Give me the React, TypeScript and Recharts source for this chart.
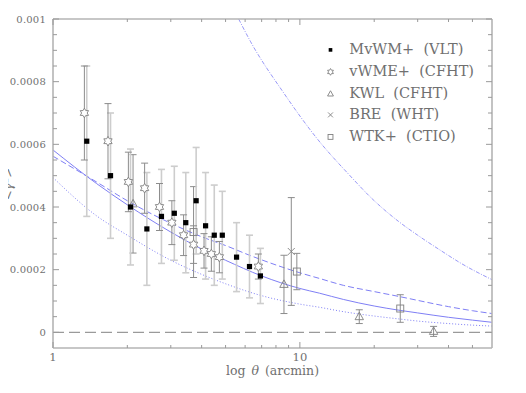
import React from 'react';
import { ComposedChart, Line, Scatter, XAxis, YAxis, ErrorBar, ReferenceLine } from 'recharts';

// ---------- data ----------
// MvWM+ (VLT) – filled squares
const mvwmTheta = [1.37, 1.71, 2.06, 2.40, 2.75, 3.10, 3.45, 3.80, 4.15, 4.50, 4.85, 5.54, 6.25, 6.92];
const mvwmValue = [0.00061, 0.00050, 0.00040, 0.00033, 0.00037, 0.00038, 0.00035, 0.00042, 0.00034, 0.00031, 0.00031, 0.00024, 0.00021, 0.00018];
const mvwmError = [0.00024, 0.00020, 0.000185, 0.00018, 0.00015, 0.00015, 0.00016, 0.00017, 0.00017, 0.00016, 0.00014, 0.00011, 0.00010, 0.000088];

// vWME+ (CFHT) – stars
const vwmeTheta = [1.34, 1.67, 2.02, 2.35, 2.70, 3.03, 3.38, 3.71, 4.09, 4.38, 4.72, 6.79];
const vwmeValue = [0.00070, 0.00061, 0.00048, 0.00046, 0.00040, 0.00035, 0.00031, 0.00028, 0.00026, 0.00025, 0.00024, 0.00021];
const vwmeError = [0.00015, 0.00012, 0.000095, 0.00008, 0.000075, 0.00007, 0.000065, 0.00006, 0.000055, 0.000055, 0.00005, 0.00004];

// KWL (CFHT) – triangles
const kwlTheta = [2.11, 8.62, 17.4, 34.8];
const kwlValue = [0.00041, 0.000153, 0.00005, 0.000003];
const kwlError = [0.000157, 0.000093, 0.000022, 0.000016];

// BRE (WHT) – cross
const breTheta = [9.23];
const breValue = [0.000258];
const breError = [0.000172];

// WTK+ (CTIO) – open squares
const wtkTheta = [3.71, 9.72, 25.5];
const wtkValue = [0.00032, 0.000194, 0.000076];
const wtkError = [0.000145, 0.000058, 0.000044];

// model curves
const solidTheta = [1, 1.5, 2, 3, 4, 5, 7, 10, 12, 15, 20, 25, 30, 40, 50, 60];
const solidValue = [0.000582, 0.000475, 0.000407, 0.00032, 0.000266, 0.00023, 0.00018, 0.00014, 0.000125, 0.000105, 0.000084, 0.000071, 0.000062, 0.000048, 0.000039, 0.000032];

const dashedTheta = [1, 1.5, 2, 3, 4, 5, 6.3, 8, 10, 12, 15, 20, 25, 30, 40, 50, 60];
const dashedValue = [0.000562, 0.00048, 0.00042, 0.000348, 0.000305, 0.000277, 0.000245, 0.000215, 0.00019, 0.000172, 0.00015, 0.00013, 0.000115, 0.000102, 0.000082, 0.000069, 0.00006];

const dottedTheta = [1, 1.5, 2, 3, 4, 5, 7, 10, 12, 15, 20, 25, 30, 40, 50, 60];
const dottedValue = [0.000494, 0.000372, 0.00031, 0.00023, 0.000185, 0.000155, 0.000117, 0.00009, 0.00008, 0.000066, 0.000052, 0.000043, 0.000036, 0.000028, 0.000023, 0.00002];

const dashDotTheta = [5.65, 6.3, 8.6, 11.8, 16, 19.4, 25, 30, 37.4, 45, 60];
const dashDotValue = [0.001, 0.000929, 0.000764, 0.000616, 0.000499, 0.00043, 0.000355, 0.00031, 0.00026, 0.00022, 0.000168];

// ticks
const xTicks = [1, 2, 3, 4, 5, 6, 7, 8, 9, 10, 20, 30, 40, 50];
const xLabelled = [1, 10];
const yTicks = [0, 0.00005, 0.0001, 0.00015, 0.0002, 0.00025, 0.0003, 0.00035, 0.0004, 0.00045, 0.0005,
  0.00055, 0.0006, 0.00065, 0.0007, 0.00075, 0.0008, 0.00085, 0.0009, 0.00095, 0.001];
const yLabels: Record<string, string> = {
  '0': '0', '0.0002': '0.0002', '0.0004': '0.0004', '0.0006': '0.0006', '0.0008': '0.0008', '0.001': '0.001',
};

const legendItems = [
  { key: 'sq', label: 'MvWM+  (VLT)' },
  { key: 'star', label: 'vWME+  (CFHT)' },
  { key: 'tri', label: 'KWL  (CFHT)' },
  { key: 'x', label: 'BRE  (WHT)' },
  { key: 'osq', label: 'WTK+  (CTIO)' },
];

// ---------- helpers ----------
const pts = (t: number[], v: number[], e?: number[]) =>
  t.map((x, i) => ({ x, y: v[i], err: e ? e[i] : 0 }));

const BLUE = '#7f7ff5';
const MARK = '#808080';
const AXIS = '#b4b4b4';
const TICK = '#9a9a9a';
const TXT = '#707070';
const SERIF = '"DejaVu Serif", serif';

const starPath = (cx: number, cy: number, R: number) => {
  const r = R / Math.sqrt(3);
  let d = '';
  for (let k = 0; k < 12; k++) {
    const a = -Math.PI / 2 + (k * Math.PI) / 6;
    const rad = k % 2 === 0 ? R : r;
    d += (k === 0 ? 'M' : 'L') + (cx + rad * Math.cos(a)).toFixed(2) + ',' + (cy + rad * Math.sin(a)).toFixed(2);
  }
  return d + 'Z';
};

const Marker = ({ kind, cx, cy, s = 1 }: { kind: string; cx: number; cy: number; s?: number }) => {
  if (cx == null || cy == null || isNaN(cx) || isNaN(cy)) return null;
  switch (kind) {
    case 'sq':
      return <rect x={cx - 2.6 * s} y={cy - 2.6 * s} width={5.2 * s} height={5.2 * s} fill="#000" />;
    case 'star':
      return <path d={starPath(cx, cy, 4.8 * s)} fill="#fff" stroke={MARK} strokeWidth={0.9} />;
    case 'tri':
      return (
        <polygon
          points={`${cx},${cy - 4.5 * s} ${cx - 4.2 * s},${cy + 3 * s} ${cx + 4.2 * s},${cy + 3 * s}`}
          fill="none" stroke={MARK} strokeWidth={0.9} />
      );
    case 'x':
      return (
        <g stroke={MARK} strokeWidth={0.9}>
          <line x1={cx - 3.5 * s} y1={cy - 3.5 * s} x2={cx + 3.5 * s} y2={cy + 3.5 * s} />
          <line x1={cx - 3.5 * s} y1={cy + 3.5 * s} x2={cx + 3.5 * s} y2={cy - 3.5 * s} />
        </g>
      );
    case 'osq':
      return <rect x={cx - 3.5 * s} y={cy - 3.5 * s} width={7 * s} height={7 * s} fill="none" stroke={MARK} strokeWidth={0.9} />;
    default:
      return null;
  }
};

const shapeOf = (kind: string) => (props: any) => <Marker kind={kind} cx={props.cx} cy={props.cy} />;

const BottomTick = (props: any) => {
  const { x, y, payload } = props;
  const major = xLabelled.includes(payload.value);
  return (
    <g>
      <line x1={x} x2={x} y1={y} y2={y - (major ? 6 : 3)} stroke={TICK} />
      {major && (
        <text x={x} y={y + 13} textAnchor="middle" fontSize={11.5} fontFamily={SERIF} fill={TXT}>
          {payload.value}
        </text>
      )}
    </g>
  );
};

const TopTick = (props: any) => {
  const { x, y, payload } = props;
  const major = xLabelled.includes(payload.value);
  return <line x1={x} x2={x} y1={y} y2={y + (major ? 6 : 3)} stroke={TICK} />;
};

const labelFor = (v: number) => yLabels[String(+v.toFixed(5))];

const LeftTick = (props: any) => {
  const { x, y, payload } = props;
  const lab = labelFor(payload.value);
  return (
    <g>
      <line x1={x} x2={x + (lab ? 6 : 4)} y1={y} y2={y} stroke={TICK} />
      {lab && (
        <text x={x - 7} y={y + 3.5} textAnchor="end" fontSize={10} letterSpacing={0.2} fontFamily={SERIF} fill={TXT}>
          {lab}
        </text>
      )}
    </g>
  );
};

const RightTick = (props: any) => {
  const { x, y, payload } = props;
  const lab = labelFor(payload.value);
  return <line x1={x} x2={x - (lab ? 6 : 4)} y1={y} y2={y} stroke={TICK} />;
};

const XLabel = (props: any) => {
  const vb = props.viewBox || {};
  const cx = vb.x + vb.width / 2;
  return (
    <text x={cx} y={vb.y + 27} textAnchor="middle" fontSize={12.5} fontFamily={SERIF} fill={TXT} wordSpacing={2}>
      log <tspan fontStyle="italic">θ</tspan> (arcmin)
    </text>
  );
};

export default function App() {
  return (
    <div style={{ position: 'relative', width: 526, height: 393, marginLeft: -8, marginTop: -8, background: '#fff' }}>
      <ComposedChart width={526} height={393} margin={{ top: 18, right: 33, bottom: 15, left: 0 }}>
        <XAxis xAxisId={0} type="number" dataKey="x" scale="log" domain={[1, 60]} allowDataOverflow
          ticks={xTicks} interval={0} tickSize={0} tickMargin={0} tickLine={false} tick={BottomTick}
          axisLine={{ stroke: AXIS, strokeWidth: 1.6 }} height={30} label={<XLabel />} />
        <XAxis xAxisId="t" orientation="top" type="number" dataKey="x" scale="log" domain={[1, 60]} allowDataOverflow
          ticks={xTicks} interval={0} tickSize={0} tickMargin={0} tickLine={false} tick={TopTick}
          axisLine={{ stroke: AXIS, strokeWidth: 1.6 }} height={1} />
        <YAxis yAxisId={0} type="number" dataKey="y" domain={[-0.00005, 0.001]} allowDataOverflow
          ticks={yTicks} interval={0} tickSize={0} tickMargin={0} tickLine={false} tick={LeftTick}
          axisLine={{ stroke: AXIS, strokeWidth: 1.6 }} width={53} />
        <YAxis yAxisId="r" orientation="right" type="number" dataKey="y" domain={[-0.00005, 0.001]} allowDataOverflow
          ticks={yTicks} interval={0} tickSize={0} tickMargin={0} tickLine={false} tick={RightTick}
          axisLine={{ stroke: AXIS, strokeWidth: 1.6 }} width={1} />

        <ReferenceLine y={0} stroke="#9a9a9a" strokeWidth={1.1} strokeDasharray="11 5" />

        {/* invisible series bound to the frame axes so they are drawn */}
        <Line xAxisId="t" yAxisId="r" data={pts(solidTheta, solidValue)} dataKey="y" dot={false}
          stroke="none" strokeWidth={0} isAnimationActive={false} legendType="none" />

        <Line data={pts(solidTheta, solidValue)} dataKey="y" type="monotone" dot={false} stroke={BLUE}
          strokeWidth={1} isAnimationActive={false} />
        <Line data={pts(dashedTheta, dashedValue)} dataKey="y" type="monotone" dot={false} stroke={BLUE}
          strokeWidth={1} strokeDasharray="6 3" isAnimationActive={false} />
        <Line data={pts(dottedTheta, dottedValue)} dataKey="y" type="monotone" dot={false} stroke={BLUE}
          strokeWidth={1} strokeDasharray="1 2" isAnimationActive={false} />
        <Line data={pts(dashDotTheta, dashDotValue)} dataKey="y" type="monotone" dot={false} stroke={BLUE}
          strokeWidth={0.8} strokeDasharray="4 1.5 1 1.5" isAnimationActive={false} />

        <Scatter data={pts(kwlTheta, kwlValue, kwlError)} dataKey="y" shape={shapeOf('tri')} isAnimationActive={false}>
          <ErrorBar dataKey="err" direction="y" width={3.5} stroke="#8c8c8c" strokeWidth={1} />
        </Scatter>
        <Scatter data={pts(breTheta, breValue, breError)} dataKey="y" shape={shapeOf('x')} isAnimationActive={false}>
          <ErrorBar dataKey="err" direction="y" width={3.5} stroke="#8c8c8c" strokeWidth={1} />
        </Scatter>
        <Scatter data={pts(wtkTheta, wtkValue, wtkError)} dataKey="y" shape={shapeOf('osq')} isAnimationActive={false}>
          <ErrorBar dataKey="err" direction="y" width={3.5} stroke="#8c8c8c" strokeWidth={1} />
        </Scatter>
        <Scatter data={pts(mvwmTheta, mvwmValue, mvwmError)} dataKey="y" shape={shapeOf('sq')} isAnimationActive={false}>
          <ErrorBar dataKey="err" direction="y" width={3.5} stroke="#cdcdcd" strokeWidth={1.6} />
        </Scatter>
        <Scatter data={pts(vwmeTheta, vwmeValue, vwmeError)} dataKey="y" shape={shapeOf('star')} isAnimationActive={false}>
          <ErrorBar dataKey="err" direction="y" width={3.5} stroke="#8c8c8c" strokeWidth={1} />
        </Scatter>
      </ComposedChart>

      <div style={{
        position: 'absolute', left: 7, top: 183.5, transform: 'translate(-50%, -50%) rotate(-90deg)',
        fontFamily: SERIF, fontSize: 12, lineHeight: '12px', color: TXT, whiteSpace: 'nowrap',
      }}>
        {'<'}<i>γ</i><sup style={{ fontSize: 8, verticalAlign: '4px' }}>2</sup>{'>'}
      </div>

      <div style={{ position: 'absolute', left: 320, top: 39.1, width: 200 }}>
        {legendItems.map((it) => (
          <div key={it.key} style={{ display: 'flex', alignItems: 'center', height: 21.8 }}>
            <svg width={21} height={21.8} style={{ display: 'block', flex: 'none' }}>
              <Marker kind={it.key} cx={10.5} cy={10.9} s={0.7} />
            </svg>
            <span style={{ marginLeft: 8.3, fontFamily: SERIF, fontSize: 14.5, lineHeight: '21.8px', color: TXT, whiteSpace: 'pre' }}>
              {it.label}
            </span>
          </div>
        ))}
      </div>
    </div>
  );
}
